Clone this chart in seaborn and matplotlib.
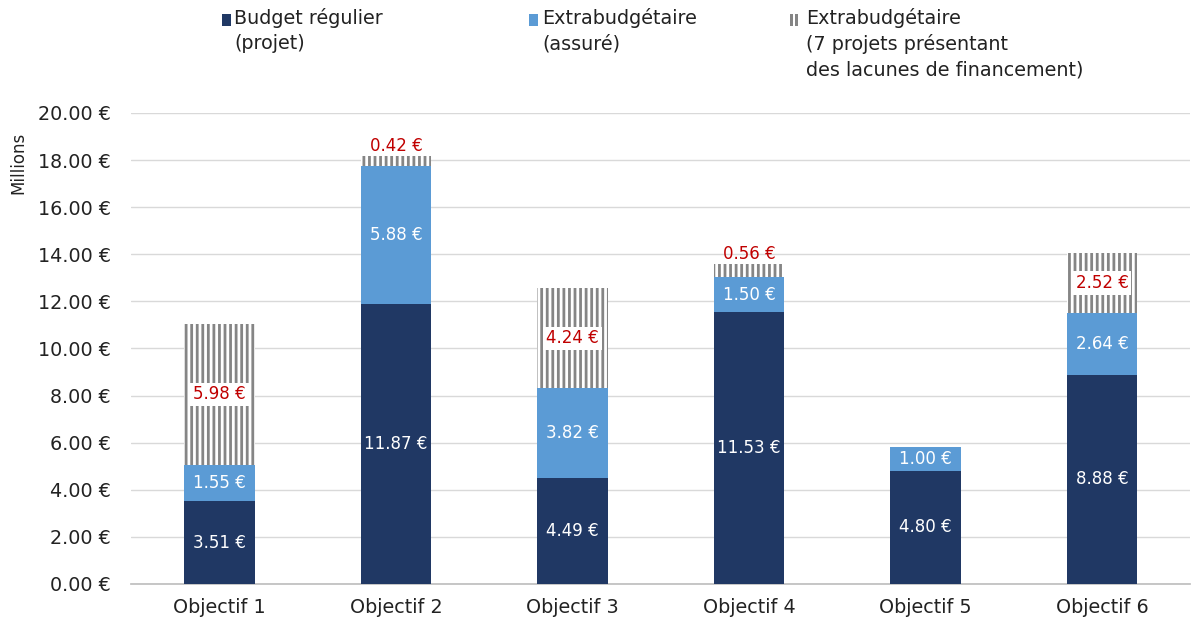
import matplotlib
matplotlib.use("Agg")
import matplotlib.pyplot as plt
import seaborn as sns
from matplotlib.patches import Rectangle

objectifs = ["Objectif 1", "Objectif 2", "Objectif 3", "Objectif 4", "Objectif 5", "Objectif 6"]
budget_regulier = [3.51, 11.87, 4.49, 11.53, 4.80, 8.88]
extra_assure = [1.55, 5.88, 3.82, 1.50, 1.00, 2.64]
extra_lacunes = [5.98, 0.42, 4.24, 0.56, 0.00, 2.52]
y_ticks = [0, 2, 4, 6, 8, 10, 12, 14, 16, 18, 20]

legend_labels = [
    "Budget régulier\n(projet)",
    "Extrabudgétaire\n(assuré)",
    "Extrabudgétaire\n(7 projets présentant\ndes lacunes de financement)",
]

DARK = "#203864"
BLUE = "#5B9BD5"
GRAY = "#858585"
RED = "#C00000"

sns.set_theme(style="white")
plt.rcParams["font.family"] = ["DejaVu Sans"]
plt.rcParams["hatch.linewidth"] = 2.0

fig = plt.figure(figsize=(11.94, 6.27), dpi=100)
ax = fig.add_axes([0.11, 0.0686, 0.887, 0.7512])

stack2 = [a + b for a, b in zip(budget_regulier, extra_assure)]
totals = [s + c for s, c in zip(stack2, extra_lacunes)]

# stacked by overlapping cumulative bars
sns.barplot(x=objectifs, y=totals, color="white", edgecolor=GRAY, linewidth=0,
            hatch="|||", width=0.4, ax=ax, zorder=2)
sns.barplot(x=objectifs, y=stack2, color=BLUE, saturation=1, linewidth=0,
            width=0.4, ax=ax, zorder=3)
sns.barplot(x=objectifs, y=budget_regulier, color=DARK, saturation=1, linewidth=0,
            width=0.4, ax=ax, zorder=4)

lbl = dict(fontsize=12, ha="center", zorder=6)
for i in range(len(objectifs)):
    b, a, g = budget_regulier[i], extra_assure[i], extra_lacunes[i]
    ax.text(i, b / 2, f"{b:.2f} €", color="white", va="center", **lbl)
    ax.text(i, b + a / 2, f"{a:.2f} €", color="white", va="center", **lbl)
    if g <= 0:
        continue
    if g < 0.8:
        ax.text(i, totals[i] + 0.05, f"{g:.2f} €", color=RED, va="bottom", **lbl)
    else:
        ax.text(i, stack2[i] + g / 2, f"{g:.2f} €", color=RED, va="center",
                bbox=dict(facecolor="white", edgecolor="none", pad=2), **lbl)

ax.set_ylim(0, 20)
ax.set_xlim(-0.5, len(objectifs) - 0.5)
ax.set_yticks(y_ticks)
ax.set_yticklabels([f"{v:.2f} €" for v in y_ticks])
ax.yaxis.grid(True, color="#d9d9d9", linewidth=1, zorder=0)
ax.set_axisbelow(True)
ax.tick_params(axis="y", length=0, pad=15, labelsize=13.8, labelcolor="#222222")
ax.tick_params(axis="x", length=0, pad=10, labelsize=13.8, labelcolor="#222222")
ax.set_xlabel("")
ax.set_ylabel("")
for side in ["top", "right", "left"]:
    ax.spines[side].set_visible(False)
ax.spines["bottom"].set_color("#bfbfbf")

fig.text(18 / 1194, 1 - 163 / 627, "Millions", rotation=90, ha="center",
         va="center", fontsize=12, color="#222222")

# legend drawn by hand so markers sit on the first text line
W, H = 1194, 627
fig.patches.append(Rectangle((222 / W, 1 - 26 / H), 9 / W, 12 / H,
                             transform=fig.transFigure, facecolor=DARK, linewidth=0))
fig.patches.append(Rectangle((529 / W, 1 - 26 / H), 9 / W, 12 / H,
                             transform=fig.transFigure, facecolor=BLUE, linewidth=0))
for sx in (790, 795):
    fig.patches.append(Rectangle((sx / W, 1 - 26 / H), 2.5 / W, 12 / H,
                                 transform=fig.transFigure, facecolor=GRAY, linewidth=0))
for tx, label in zip((234, 542, 806), legend_labels):
    fig.text(tx / W, 1 - 8 / H, label, ha="left", va="top", fontsize=13.8,
             color="#222222", linespacing=1.4)

fig.savefig("out.png", dpi=100)
